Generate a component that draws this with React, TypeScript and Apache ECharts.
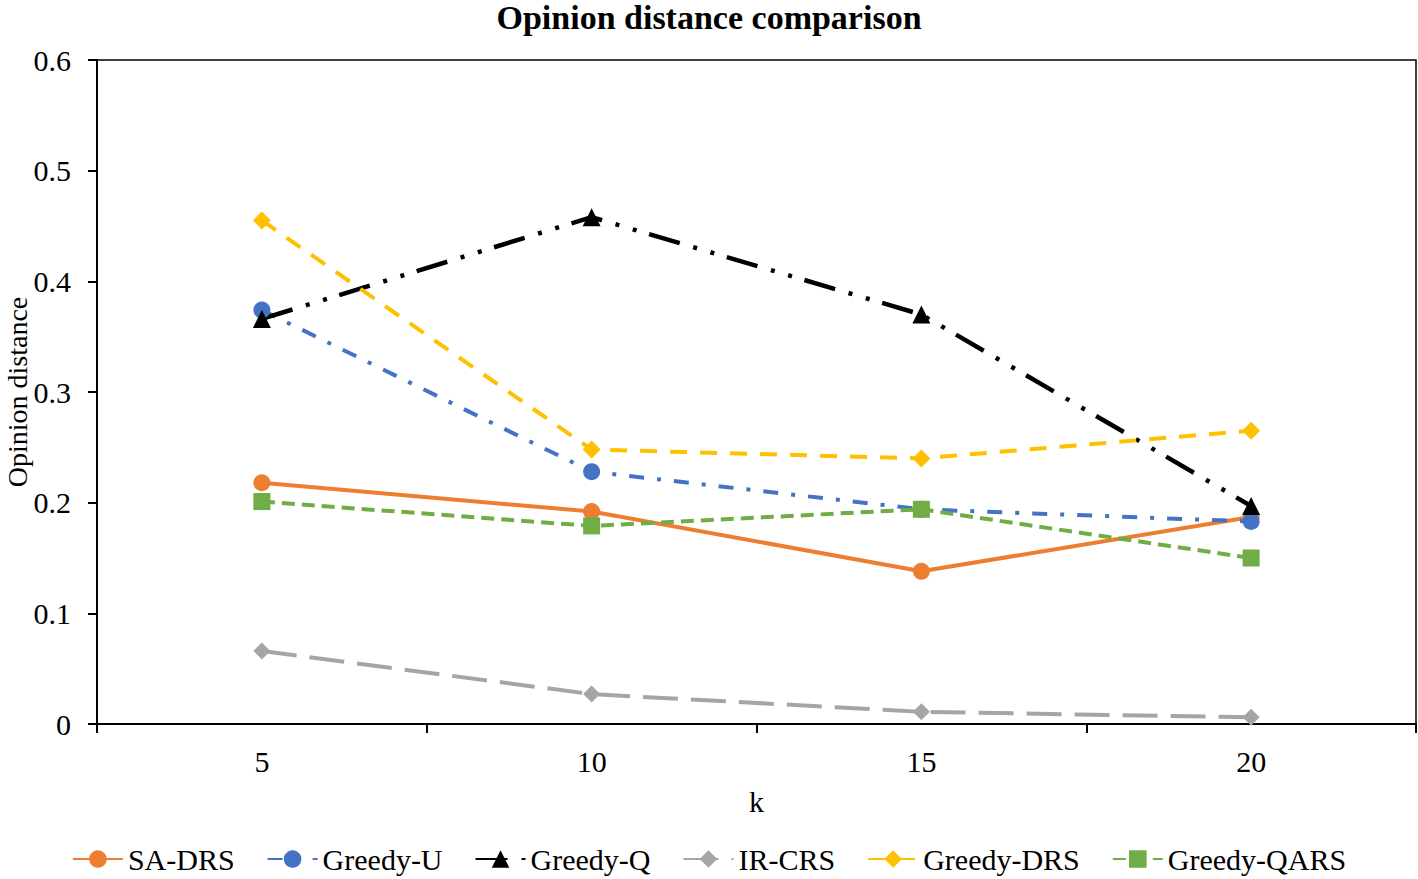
import React, { useEffect, useRef } from "react";
import * as echarts from "echarts";

const categories = ["5", "10", "15", "20"];
const saDrs = [0.218, 0.192, 0.138, 0.187];
const greedyU = [0.374, 0.228, 0.194, 0.183];
const greedyQ = [0.366, 0.458, 0.370, 0.197];
const irCrs = [0.066, 0.027, 0.011, 0.006];
const greedyDrs = [0.455, 0.248, 0.240, 0.265];
const greedyQars = [0.201, 0.179, 0.194, 0.150];

const FONT = "'Liberation Serif', 'Times New Roman', serif";

export default function App() {
  const ref = useRef<HTMLDivElement>(null);
  useEffect(() => {
    if (!ref.current) return;
    const chart = echarts.init(ref.current, null, { renderer: "svg" });
    const mk = (
      name: string,
      data: number[],
      color: string,
      symbol: string,
      size: number,
      type: any,
      width = 4
    ) => ({
      name,
      type: "line",
      data,
      symbol,
      symbolSize: size,
      itemStyle: { color },
      lineStyle: { color, width, type },
      emphasis: { disabled: true },
    });
    chart.setOption({
      animation: false,
      textStyle: { fontFamily: FONT },
      title: {
        text: "Opinion distance comparison",
        left: "center",
        top: 0,
        padding: [0, 5, 0, 5],
        textStyle: { fontFamily: FONT, fontSize: 34, fontWeight: "bold", color: "#000" },
      },
      grid: {
        left: 97,
        right: 2,
        top: 60,
        bottom: 155,
        outerBoundsMode: "none",
        containLabel: false,
        show: true,
        borderColor: "#000",
        borderWidth: 1.5,
      },
      legend: {
        bottom: 0,
        left: "center",
        itemWidth: 50,
        itemHeight: 22,
        itemGap: 32,
        textStyle: { fontFamily: FONT, fontSize: 30, color: "#000" },
        data: ["SA-DRS", "Greedy-U", "Greedy-Q", "IR-CRS", "Greedy-DRS", "Greedy-QARS"],
      },
      xAxis: {
        type: "category",
        data: categories,
        name: "k",
        nameLocation: "middle",
        nameGap: 62,
        nameMoveOverlap: false,
        nameTextStyle: { fontFamily: FONT, fontSize: 30, color: "#000" },
        axisLine: { lineStyle: { color: "#000", width: 2 } },
        axisTick: { show: true, length: 9, lineStyle: { color: "#000", width: 2 } },
        axisLabel: { fontFamily: FONT, fontSize: 30, color: "#000", margin: 22 },
        splitLine: { show: false },
      },
      yAxis: {
        type: "value",
        min: 0,
        max: 0.6,
        interval: 0.1,
        name: "Opinion distance",
        nameLocation: "middle",
        nameGap: 66,
        nameMoveOverlap: false,
        nameTextStyle: { fontFamily: FONT, fontSize: 28, lineHeight: 28, color: "#000" },
        axisLine: { show: true, lineStyle: { color: "#000", width: 2 } },
        axisTick: { show: true, length: 9, lineStyle: { color: "#000", width: 2 } },
        axisLabel: {
          fontFamily: FONT,
          fontSize: 30,
          color: "#000",
          margin: 26,
          formatter: (v: number) => (v === 0 ? "0" : v.toFixed(1)),
        },
        splitLine: { show: false },
      },
      series: [
        mk("SA-DRS", saDrs, "#ED7D31", "circle", 17, "solid"),
        mk("Greedy-U", greedyU, "#4472C4", "circle", 17, [15, 13, 4, 13]),
        mk("Greedy-Q", greedyQ, "#000000", "triangle", 18, [32, 14, 4, 14, 4, 13], 4.5),
        mk("IR-CRS", irCrs, "#A5A5A5", "diamond", 17, [35, 13]),
        mk("Greedy-DRS", greedyDrs, "#FFC000", "diamond", 18, [17, 13]),
        mk("Greedy-QARS", greedyQars, "#70AD47", "rect", 17, [13, 7]),
      ],
    });
    return () => chart.dispose();
  }, []);
  return <div ref={ref} style={{ width: 1418, height: 879, position: "absolute", left: 0, top: 0 }} />;
}
